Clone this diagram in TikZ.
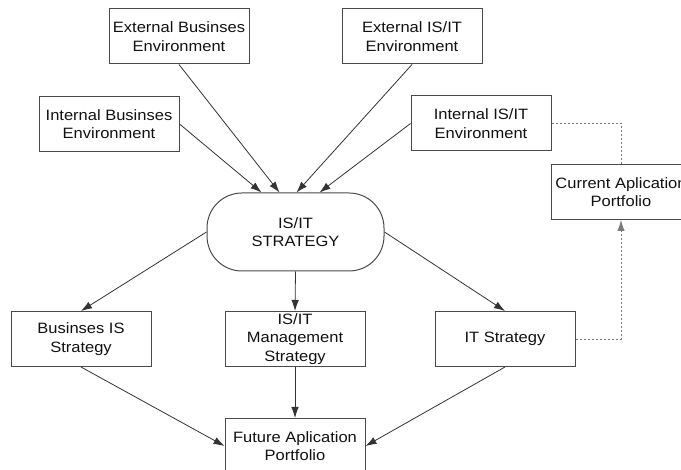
\documentclass[tikz,border=0pt]{standalone}
\usepackage{fontspec}
\setmainfont{Liberation Sans}[FakeStretch=1.1]
\usetikzlibrary{arrows.meta}
\definecolor{boxc}{HTML}{4A4A4A}
\definecolor{txtc}{HTML}{111111}
\definecolor{linec}{HTML}{333333}
\definecolor{dashc}{HTML}{7A7A7A}
\begin{document}
\begin{tikzpicture}[x=1pt,y=-1pt,
  box/.style={draw=boxc, line width=1pt, minimum width=140pt, minimum height=55pt,
    inner sep=0pt, align=center, font=\fontsize{15}{18.5}\selectfont, text=txtc},
  tip/.style={-{Latex[length=11pt,width=7.5pt]}},
  arr/.style={draw=linec, line width=0.8pt, tip},
  dsh/.style={draw=dashc, line width=0.9pt, dash pattern=on 2.5pt off 1.5pt}]
\useasboundingbox (0,0) rectangle (681,470);
\node[box] (EB) at (179,36.5) {External Businses\\Environment};
\node[box] (EI) at (412,36.5) {External IS/IT\\Environment};
\node[box] (IB) at (109,124) {Internal Businses\\Environment};
\node[box] (II) at (481,123.5) {Internal IS/IT\\Environment};
\node[box] (CA) at (621,192) {Current Aplication\\Portfolio};
\node[box, minimum width=177pt, minimum height=78pt, rounded corners=35pt] (S) at (295.5,232) {IS/IT\\STRATEGY};
\node[box] (BIS) at (81,339) {Businses IS\\Strategy};
\node[box] (MS) at (295,339) {IS/IT\\Management\\Strategy};
\node[box] (ITS) at (505,339) {IT Strategy};
\node[box] (FA) at (295,446) {Future Aplication\\Portfolio};
\draw[arr] (IB.east) -- ([xshift=55pt]S.north west);
\draw[arr] (EB.south) -- ([xshift=73pt]S.north west);
\draw[arr] (EI.south) -- ([xshift=90pt]S.north west);
\draw[arr] (II.west) -- ([xshift=113pt]S.north west);
\draw[arr] (S.west) -- (BIS.north);
\draw[arr] (S.south) -- (MS.north);
\draw[arr] (S.east) -- (ITS.north);
\draw[arr] (BIS.south) -- (FA.west);
\draw[arr] (MS.south) -- (FA.north);
\draw[arr] (ITS.south) -- (FA.east);
\draw[dsh] (II.east) -| (CA.north);
\draw[dsh, tip] (ITS.east) -| (CA.south);
\end{tikzpicture}
\end{document}
